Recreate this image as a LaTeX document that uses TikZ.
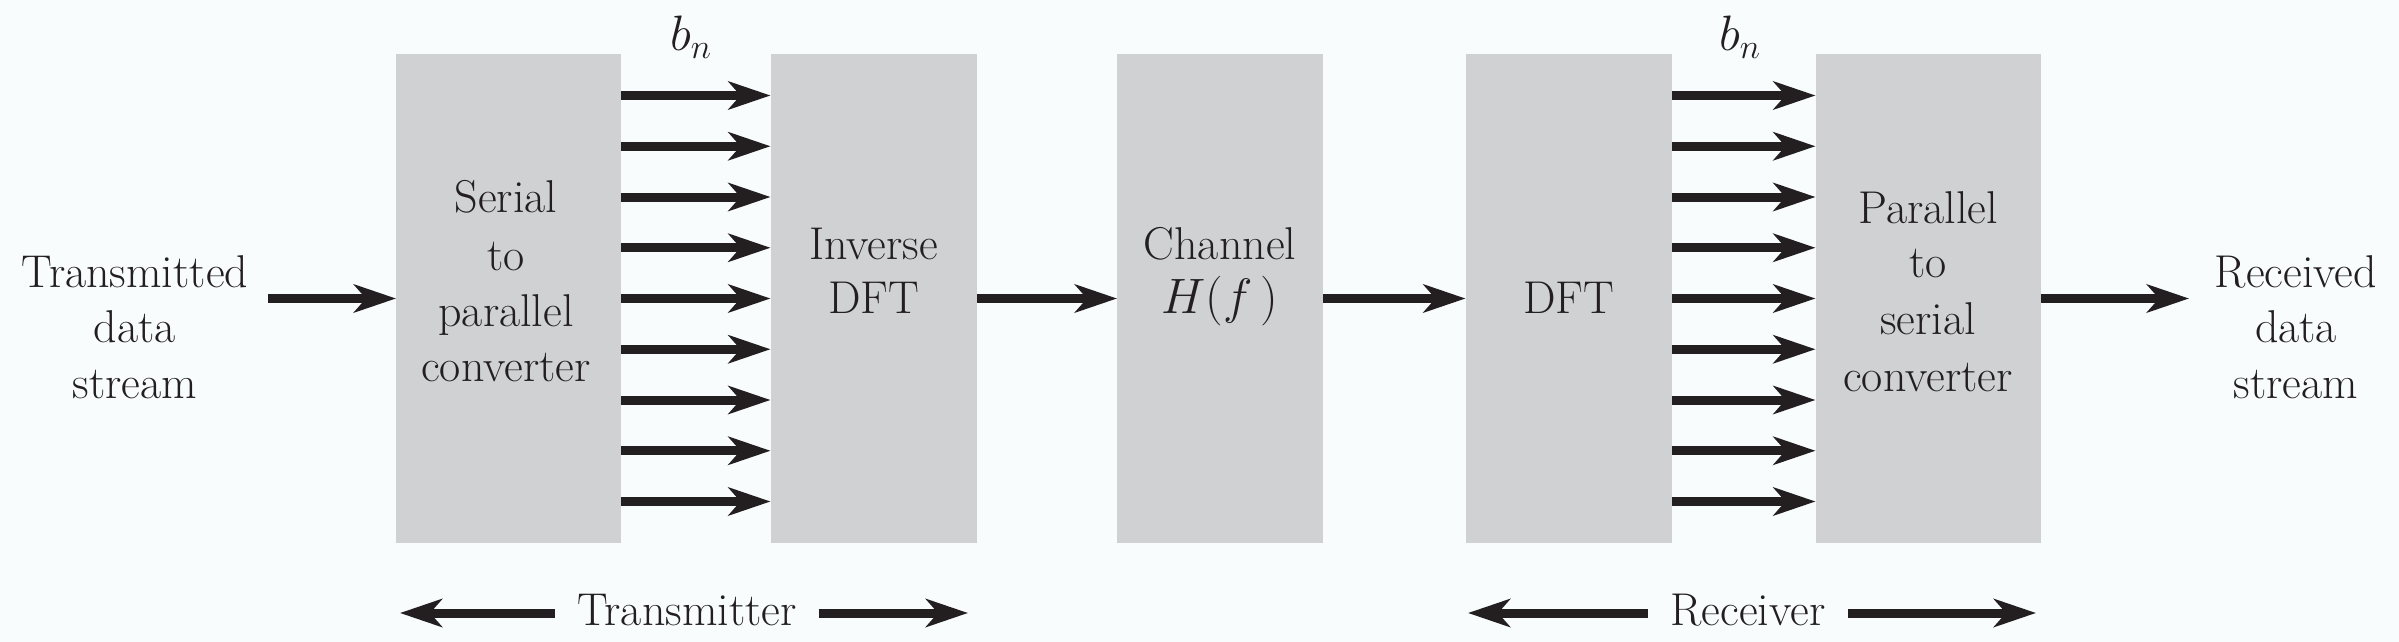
\documentclass[tikz,border=0pt]{standalone}
\usetikzlibrary{arrows.meta,calc}
\definecolor{bg}{RGB}{248,252,253}
\definecolor{boxgray}{RGB}{208,209,211}
\definecolor{ink}{RGB}{35,31,32}
\begin{document}
\begin{tikzpicture}[x=0.5pt,y=-0.5pt,
  blk/.style={fill=boxgray, draw=none, inner sep=0pt, outer sep=0pt, minimum height=244.5pt},
  wide/.style={blk, minimum width=112.5pt},
  narrow/.style={blk, minimum width=103pt},
  txt/.style={font=\rmfamily\fontsize{23pt}{27pt}\selectfont, text=ink, inner sep=0pt, anchor=base},
  arr/.style={draw=ink, line width=4.5pt, -{Stealth[length=21pt,width=14pt,inset=6pt]}}
]
\fill[bg] (0,0) rectangle (2399,642);
\useasboundingbox (0,0) rectangle (2399,642);

% blocks
\node[wide]   (b1) at (508.5,298.5) {};
\node[narrow] (b2) at (873.5,298.5) {};
\node[narrow] (b3) at (1220,298.5) {};
\node[narrow] (b4) at (1568.5,298.5) {};
\node[wide]   (b5) at (1928,298.5) {};

% input / output labels
\node[txt] (in1) at (135,287) {Transmitted};
\node[txt] (in2) at (135,342) {data};
\node[txt] (in3) at (135,398) {stream};
\node[txt] (out1) at (2296,287) {Received};
\node[txt] (out2) at (2296,342) {data};
\node[txt] (out3) at (2296,398) {stream};

% block texts
\node[txt] (s1) at (506,213) {Serial};
\node[txt] (s2) at (506,270) {to};
\node[txt] (s3) at (506,326) {parallel};
\node[txt] (s4) at (506,381) {converter};
\node[txt] (i1) at (873.5,259) {Inverse};
\node[txt] (i2) at (873.5,313) {DFT};
\node[txt] (c1) at (1220,259) {Channel};
\node[txt] (c2) at (1220,313) {$H(f\,)$};
\node[txt] (d1) at (1568.5,313) {DFT};
\node[txt] (p1) at (1928,223) {Parallel};
\node[txt] (p2) at (1928,277) {to};
\node[txt] (p3) at (1928,334) {serial};
\node[txt] (p4) at (1928,391) {converter};

% b_n labels
\node[txt, font=\fontsize{26pt}{30pt}\selectfont] (bn1) at (691,51) {$b_n$};
\node[txt, font=\fontsize{26pt}{30pt}\selectfont] (bn2) at (1740,51) {$b_n$};

% main path
\coordinate (inS) at (268,298.5);
\coordinate (outE) at (2189,298.5);
\draw[arr] (inS) -- (b1.west);
\draw[arr] (b2.east) -- (b3.west);
\draw[arr] (b3.east) -- (b4.west);
\draw[arr] (b5.east) -- (outE);

% parallel arrows
\foreach \k in {-4,...,4} {
  \draw[arr] ($(b1.east)+(0,\k*50.75)$) -- ($(b2.west)+(0,\k*50.75)$);
  \draw[arr] ($(b4.east)+(0,\k*50.75)$) -- ($(b5.west)+(0,\k*50.75)$);
}

% transmitter / receiver spans
\node[txt, inner xsep=11pt] (tx) at (687,625) {Transmitter};
\node[txt, inner xsep=11pt] (rx) at (1748,625) {Receiver};
\coordinate (txL) at (400,613);
\coordinate (txR) at (968,613);
\coordinate (rxL) at (1468,613);
\coordinate (rxR) at (2036,613);
\draw[arr] (tx.west |- txL) -- (txL);
\draw[arr] (tx.east |- txR) -- (txR);
\draw[arr] (rx.west |- rxL) -- (rxL);
\draw[arr] (rx.east |- rxR) -- (rxR);
\end{tikzpicture}
\end{document}
